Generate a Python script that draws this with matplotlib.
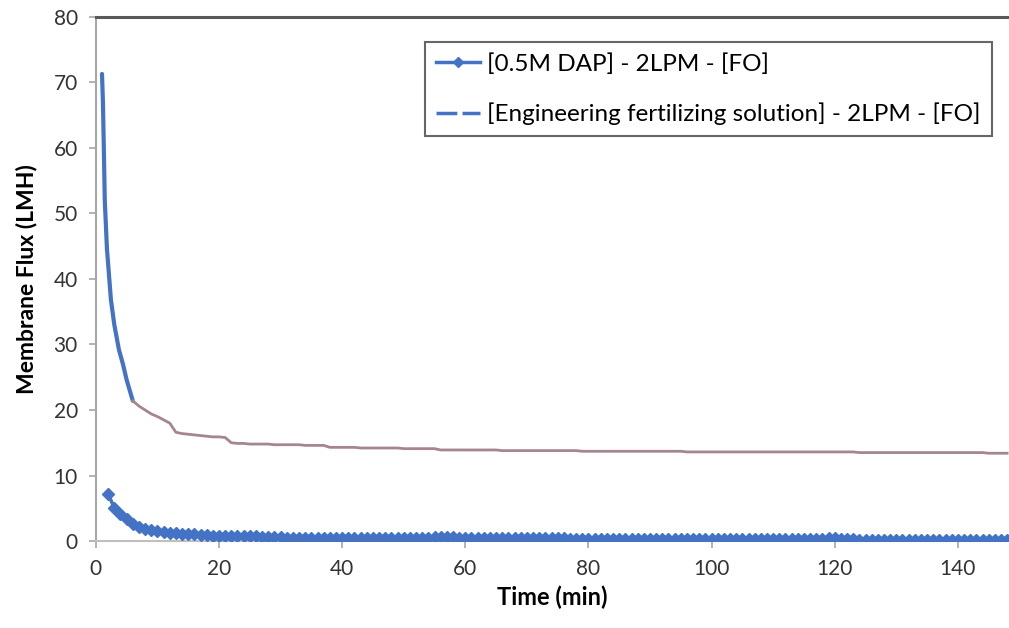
import matplotlib.pyplot as plt
from matplotlib.lines import Line2D

plt.rcParams['font.family'] = ['Lato', 'DejaVu Sans']

# [Engineering fertilizing solution] - 2LPM - [FO]
time_efs = [1.0, 1.15, 1.3, 1.45, 1.8, 2.45, 3.0, 3.75, 4.4, 5.0, 6.0] + list(range(7, 149))
flux_efs = [
    71.3, 67.0, 59.7, 52.0, 44.6, 36.8, 33.0, 29.2, 27.0, 24.6, 21.4,
    20.6, 20.0, 19.4, 19.0,
    18.5, 18.0, 16.6, 16.4, 16.3, 16.2, 16.1, 16.0, 15.9, 15.9,
    15.8, 15.0, 14.9, 14.9, 14.8, 14.8, 14.8, 14.8, 14.7, 14.7,
    14.7, 14.7, 14.7, 14.6, 14.6, 14.6, 14.6, 14.3, 14.3, 14.3,
    14.3, 14.3, 14.2, 14.2, 14.2, 14.2, 14.2, 14.2, 14.2, 14.1,
    14.1, 14.1, 14.1, 14.1, 14.1, 13.9, 13.9, 13.9, 13.9, 13.9,
    13.9, 13.9, 13.9, 13.9, 13.9, 13.8, 13.8, 13.8, 13.8, 13.8,
    13.8, 13.8, 13.8, 13.8, 13.8, 13.8, 13.8, 13.8, 13.7, 13.7,
    13.7, 13.7, 13.7, 13.7, 13.7, 13.7, 13.7, 13.7, 13.7, 13.7,
    13.7, 13.7, 13.7, 13.7, 13.7, 13.6, 13.6, 13.6, 13.6, 13.6,
    13.6, 13.6, 13.6, 13.6, 13.6, 13.6, 13.6, 13.6, 13.6, 13.6,
    13.6, 13.6, 13.6, 13.6, 13.6, 13.6, 13.6, 13.6, 13.6, 13.6,
    13.6, 13.6, 13.6, 13.5, 13.5, 13.5, 13.5, 13.5, 13.5, 13.5,
    13.5, 13.5, 13.5, 13.5, 13.5, 13.5, 13.5, 13.5, 13.5, 13.5,
    13.5, 13.5, 13.5, 13.5, 13.4, 13.4, 13.4, 13.4,
]

# [0.5M DAP] - 2LPM - [FO], one value per minute from t=2
time_dap = list(range(2, 149))
flux_dap = [
    7.2, 5.0, 4.1, 3.3, 2.6, 2.2, 1.9, 1.7, 1.6,
    1.4, 1.3, 1.2, 1.1, 1.0, 1.0, 0.9, 0.9, 0.8, 0.8,
    0.8, 0.8, 0.7, 0.7, 0.7, 0.7, 0.6, 0.6, 0.6, 0.6,
    0.5, 0.5, 0.5, 0.5, 0.5, 0.4, 0.4, 0.4, 0.4, 0.4,
    0.4, 0.4, 0.4, 0.4, 0.4, 0.4, 0.4, 0.4, 0.4, 0.5,
    0.5, 0.5, 0.5, 0.5, 0.6, 0.6, 0.6, 0.6, 0.5, 0.5,
    0.5, 0.5, 0.5, 0.5, 0.5, 0.5, 0.4, 0.4, 0.4, 0.4,
    0.4, 0.4, 0.4, 0.4, 0.4, 0.4, 0.3, 0.3, 0.3, 0.3,
    0.3, 0.3, 0.3, 0.3, 0.3, 0.3, 0.3, 0.3, 0.3, 0.3,
    0.3, 0.3, 0.3, 0.3, 0.3, 0.3, 0.3, 0.3, 0.3, 0.3,
    0.3, 0.3, 0.3, 0.3, 0.3, 0.3, 0.3, 0.3, 0.3, 0.3,
    0.3, 0.3, 0.3, 0.3, 0.3, 0.3, 0.3, 0.3, 0.4, 0.4,
    0.3, 0.3, 0.3, 0.2, 0.2, 0.2, 0.2, 0.2, 0.2, 0.2,
    0.2, 0.2, 0.2, 0.2, 0.2, 0.2, 0.2, 0.2, 0.2, 0.2,
    0.2, 0.2, 0.2, 0.2, 0.2, 0.2, 0.2, 0.2,
]

blue = '#4472C4'

fig = plt.figure(figsize=(10.09, 6.28), dpi=100)
ax = fig.add_axes([0.095, 0.1385, 0.905, 0.8345])

# the upper curve: thick blue at the start, thin mauve afterwards
ax.plot(time_efs[:11], flux_efs[:11], color=blue, lw=3, solid_capstyle='round', zorder=3)
ax.plot(time_efs[10:], flux_efs[10:], color='#a5868f', lw=2, zorder=3)

ax.plot(time_dap, flux_dap, color=blue, lw=2.5, marker='D', markersize=6.5,
        markeredgecolor=blue, zorder=3)

ax.set_xlim(0, 148.3)
ax.set_ylim(0, 80)
ax.set_xticks(range(0, 141, 20))
ax.set_yticks(range(0, 81, 10))

ax.spines['right'].set_visible(False)
ax.spines['top'].set_color('#595959')
ax.spines['top'].set_linewidth(2.2)
ax.spines['left'].set_color('#a6a6a6')
ax.spines['bottom'].set_color('#bfbfbf')
ax.spines['left'].set_linewidth(1.5)
ax.spines['bottom'].set_linewidth(1.5)
ax.tick_params(axis='both', colors='#a6a6a6', labelcolor='#333333',
               labelsize=15, length=5, width=1.2)
ax.tick_params(axis='y', pad=8)
ax.tick_params(axis='x', pad=8)

ax.set_xlabel('Time (min)', fontsize=17, fontweight='bold', labelpad=5)
ax.set_ylabel('Membrane Flux (LMH)', fontsize=16.5, fontweight='bold', labelpad=12)

handles = [
    Line2D([], [], color=blue, lw=2.5, marker='D', markersize=5),
    Line2D([], [], color=blue, lw=2.5, dashes=(6, 1.5)),
]
labels = ['[0.5M DAP] - 2LPM - [FO]',
          '[Engineering fertilizing solution] - 2LPM - [FO]']
leg = ax.legend(handles, labels, loc='upper right', bbox_to_anchor=(0.995, 0.952),
                bbox_transform=fig.transFigure, fontsize=17.5, frameon=True,
                fancybox=False, edgecolor='#404040', handlelength=1.8,
                handletextpad=0.3, borderpad=0.45, labelspacing=1.15)
leg.get_frame().set_linewidth(1.5)

fig.savefig('out.png', dpi=100)
